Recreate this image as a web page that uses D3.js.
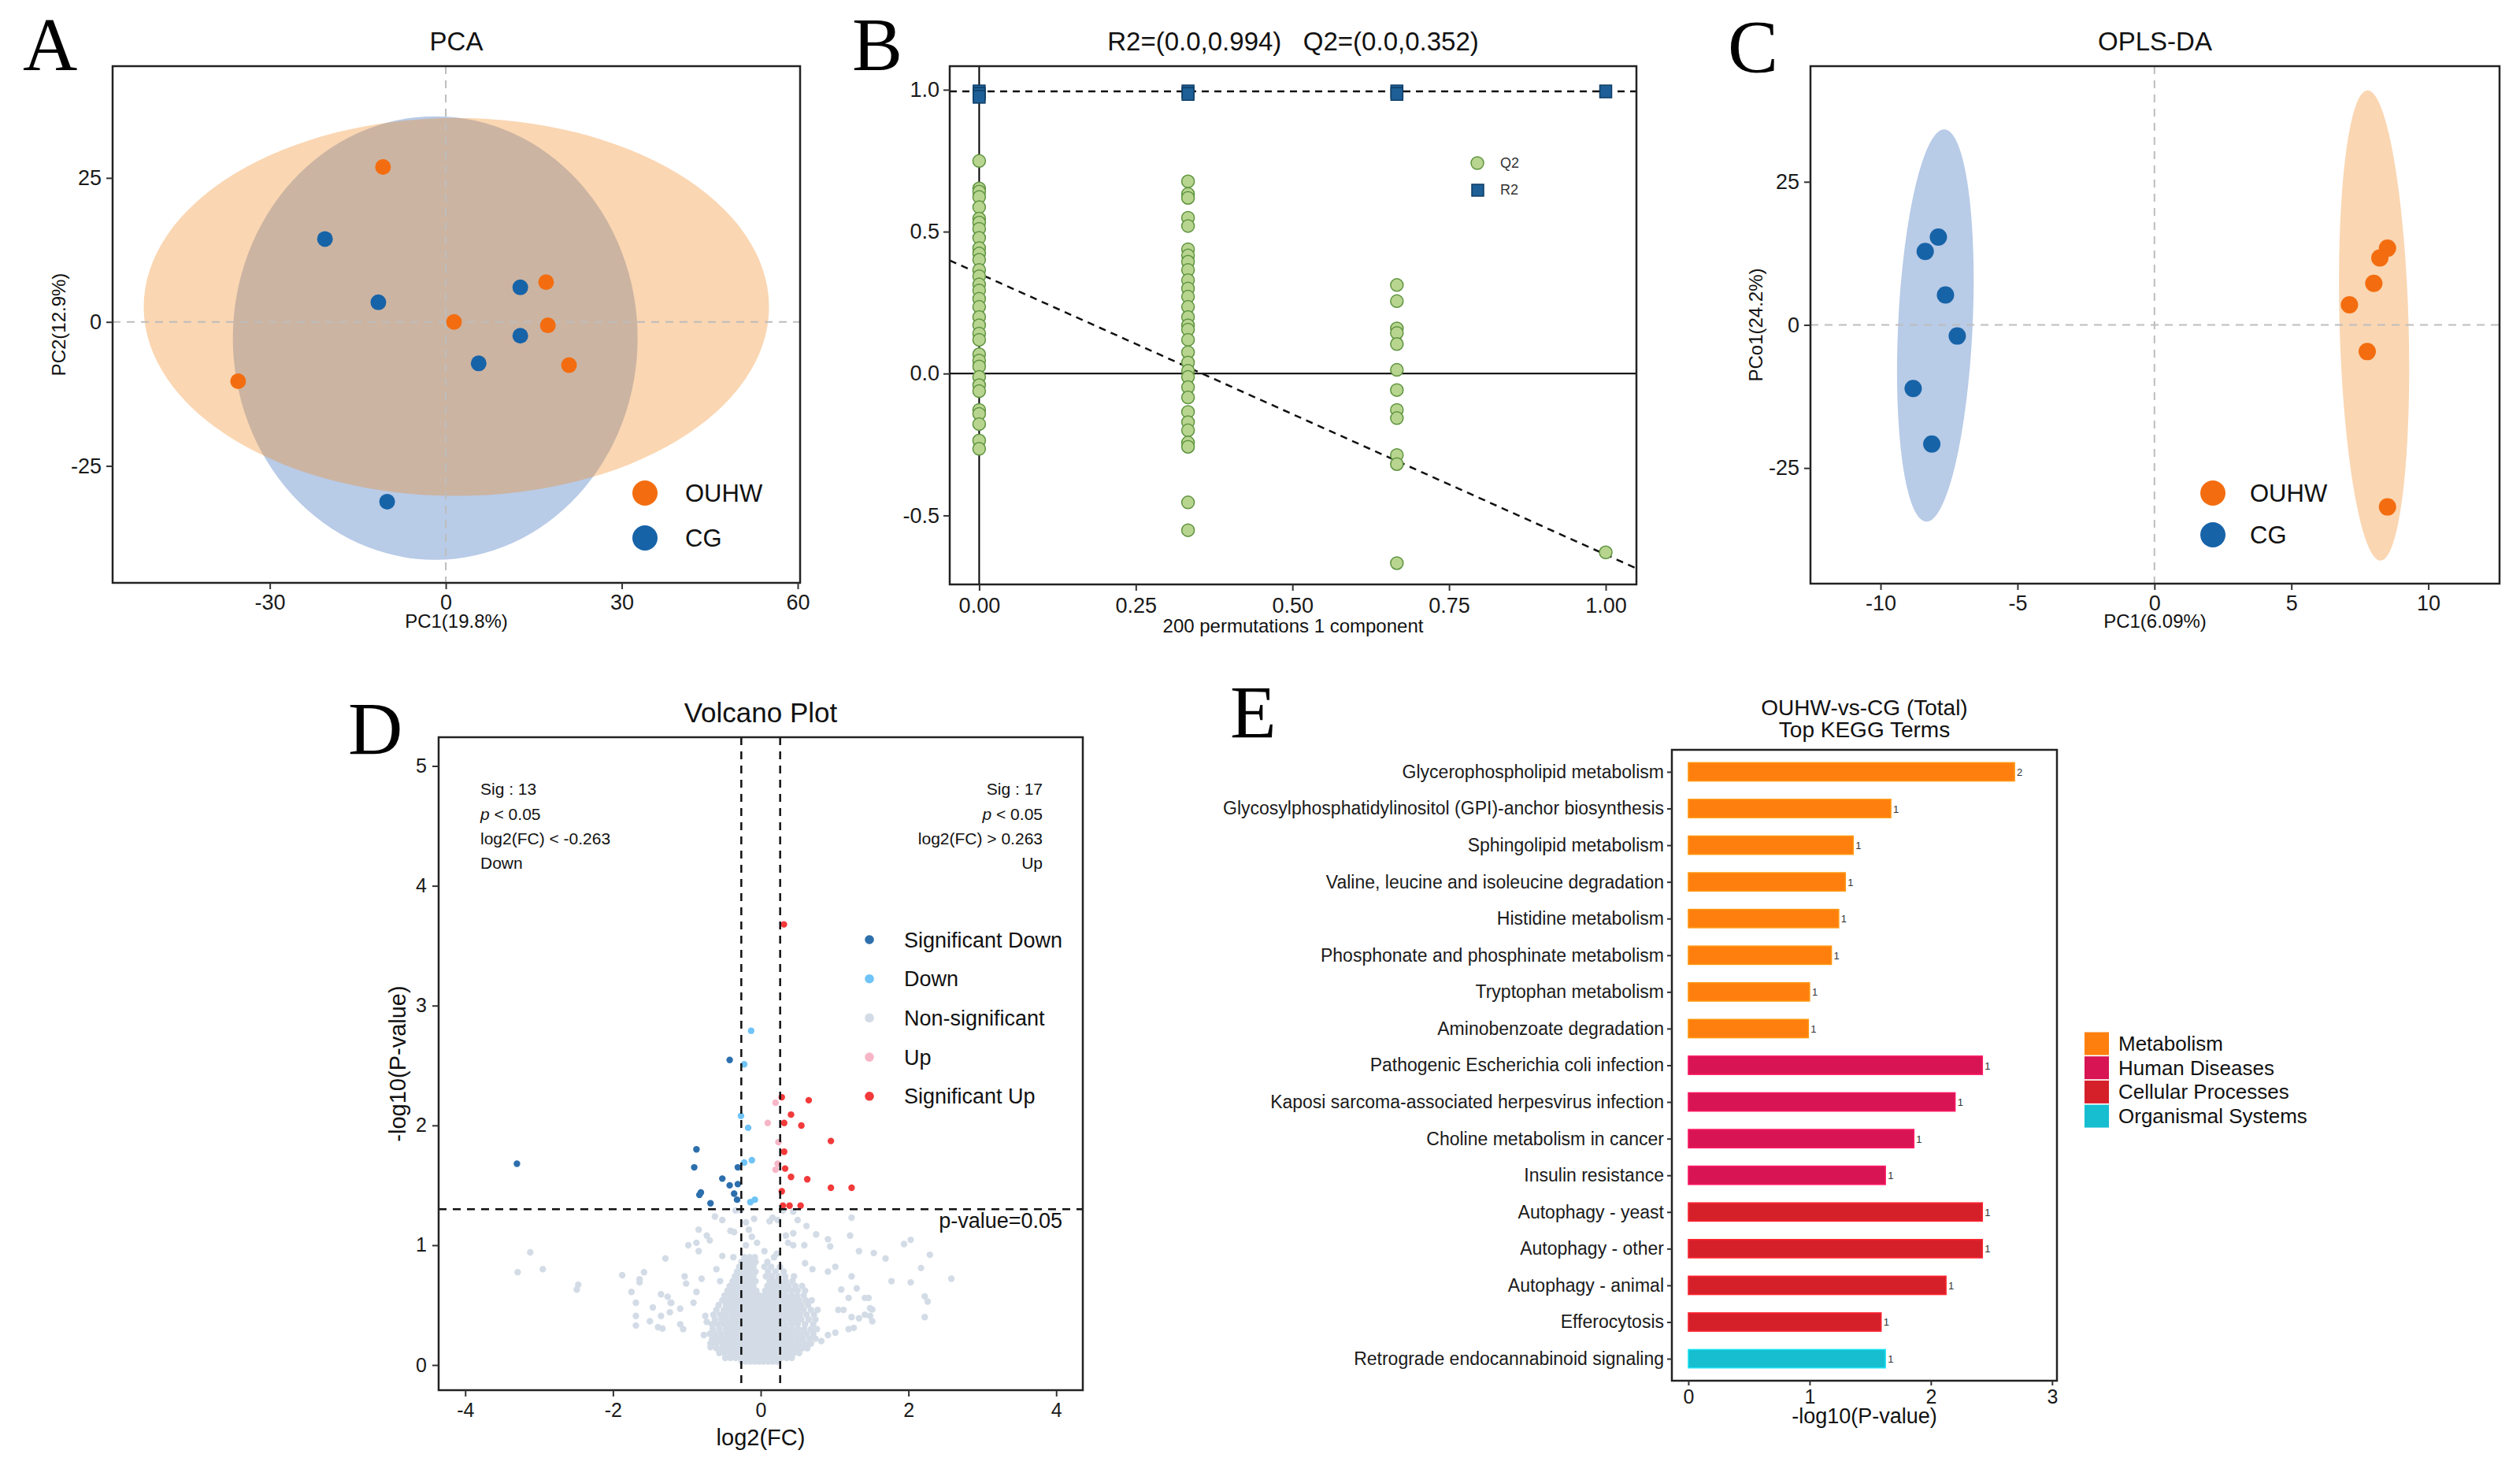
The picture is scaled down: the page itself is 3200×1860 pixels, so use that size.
<!DOCTYPE html>
<html><head><meta charset="utf-8">
<script src="https://cdn.jsdelivr.net/npm/d3@7"></script>
<style>body{margin:0;background:#fff}</style>
</head><body>
<svg id="c" width="3200" height="1860" xmlns="http://www.w3.org/2000/svg"></svg>
<script>
// ================= DATA =================
// Panel A: PCA scores
const pcaGroups = ["OUHW", "CG"];
const pcaOUHW_PC1 = [-10.7, 17.1, 1.4, 17.4, 21.0, -35.4];
const pcaOUHW_PC2 = [26.9, 6.9, 0.0, -0.6, -7.5, -10.3];
const pcaCG_PC1 = [-20.6, -11.5, 12.7, 12.7, 5.6, -10.0];
const pcaCG_PC2 = [14.4, 3.4, 6.0, -2.4, -7.2, -31.2];
// ellipses: [centre PC1, centre PC2, radius PC1, radius PC2, tilt deg]
const pcaEllipseOUHW = [1.8, 2.6, 53.3, 32.8, 0];
const pcaEllipseCG = [-1.8, -2.8, 34.5, 38.5, 0];
const pcaXTicks = [-30, 0, 30, 60];
const pcaYTicks = [-25, 0, 25];

// Panel B: permutation test
const permLevels = [0, 1 / 3, 2 / 3, 1];
const q2_0 = [0.749,0.652,0.641,0.622,0.586,0.546,0.532,0.510,0.478,0.442,0.423,0.401,0.365,0.343,0.314,0.293,0.264,0.235,0.199,0.170,0.141,0.119,0.068,0.046,0.025,-0.012,-0.041,-0.062,-0.128,-0.142,-0.178,-0.236,-0.265];
const q2_1 = [0.677,0.633,0.619,0.549,0.520,0.438,0.416,0.394,0.365,0.329,0.300,0.271,0.235,0.199,0.170,0.155,0.119,0.075,0.039,0.010,-0.012,-0.048,-0.084,-0.135,-0.171,-0.200,-0.243,-0.258,-0.454,-0.552];
const q2_2 = [0.312,0.255,0.159,0.143,0.104,0.013,-0.058,-0.128,-0.157,-0.287,-0.319,-0.668];
const q2_3 = [-0.630];
const r2_0 = [0.994, 0.985, 0.975];
const r2_1 = [0.994, 0.985];
const r2_2 = [0.994, 0.985];
const r2_3 = [0.994];
const r2Intercept = 0.994, r2Slope = 0.0;
const q2Intercept = 0.352, q2Slope = -0.99;
const permXTicks = [0, 0.25, 0.5, 0.75, 1.0];
const permYTicks = [-0.5, 0.0, 0.5, 1.0];

// Panel C: OPLS-DA scores
const oplsOUHW_PC1 = [8.51, 8.23, 8.01, 7.12, 7.77, 8.51];
const oplsOUHW_PCo1 = [13.4, 11.7, 7.25, 3.5, -4.66, -31.8];
const oplsCG_PC1 = [-7.89, -8.37, -7.63, -7.2, -8.81, -8.13];
const oplsCG_PCo1 = [15.35, 12.84, 5.24, -1.94, -11.1, -20.8];
const oplsEllipseOUHW = [8.02, -0.1, 1.26, 41.1, -1.6];
const oplsEllipseCG = [-8.0, -0.1, 1.36, 34.3, 2.7];
const oplsXTicks = [-10, -5, 0, 5, 10];
const oplsYTicks = [-25, 0, 25];

// Panel D: volcano  [log2FC, -log10 p]
const volSigDown = [[-3.30,1.68],[-0.42,2.546],[-0.87,1.80],[-0.90,1.65],[-0.31,1.65],[-0.52,1.556],[-0.42,1.50],[-0.31,1.51],[-0.81,1.44],[-0.83,1.42],[-0.36,1.43],[-0.32,1.38],[-0.68,1.35]];
const volDown = [[-0.13,2.79],[-0.224,2.51],[-0.267,2.08],[-0.17,1.98],[-0.12,1.71],[-0.224,1.69],[-0.14,1.36],[-0.08,1.38]];
const volUp = [[0.20,2.19],[0.095,2.02],[0.24,1.86],[0.23,1.68],[0.20,1.63]];
const volSigUp = [[0.314,3.678],[0.285,2.235],[0.65,2.21],[0.41,2.09],[0.317,2.02],[0.55,1.999],[0.95,1.87],[0.317,1.78],[0.33,1.64],[0.41,1.57],[0.63,1.55],[0.95,1.48],[1.23,1.48],[0.285,1.45],[0.30,1.33],[0.39,1.33],[0.54,1.33]];
const volNsScatter = [[-3.12,0.94],[-3.29,0.775],[-2.95,0.80],[-2.47,0.67],[-2.49,0.63],[-1.875,0.75],[-1.58,0.775],[-1.64,0.716],[-1.64,0.69],[-1.75,0.61],[-1.69,0.52],[-1.69,0.41],[-1.69,0.33],[-1.50,0.365],[-1.46,0.48],[-1.35,0.59],[-1.26,0.57],[-1.22,0.52],[-1.23,0.44],[-1.35,0.41],[-1.39,0.316],[-1.33,0.305],[-1.29,0.89],
[-1.03,0.74],[-1.01,0.68],[-0.80,0.72],[-0.87,0.61],[-0.91,0.52],[-1.09,0.47],[-1.21,0.52],[-1.09,0.34],[-1.05,0.30],[-0.75,0.41],[-0.73,0.36],[-0.77,0.25],[-0.66,0.21],[-0.68,0.15],[-0.98,1.00],[-0.87,1.02],[-0.84,0.95],[-0.84,1.13],[-0.73,1.08],[-0.69,1.04],[-0.62,1.24],[-0.52,1.21],[-0.52,0.91],[-0.37,0.90],[-0.6,0.8],[-0.55,0.7],
[-0.36,1.11],[-0.41,1.12],[-0.20,1.19],[-0.09,1.22],[-0.16,1.13],[-0.12,1.07],[-0.20,1.00],[-0.34,1.29],[-0.27,1.29],[0.12,1.20],[0.16,1.23],[0.23,1.21],[0.30,1.29],[0.44,1.28],[0.50,1.21],[0.44,1.10],[0.34,1.08],[0.37,1.02],[0.44,1.00],[0.05,0.95],[0.22,0.93],[-0.05,1.02],[0.6,0.85],[0.7,0.8],
[1.21,1.08],[1.23,1.23],[1.33,0.95],[1.01,0.82],[0.91,0.78],[1.23,0.74],[1.30,0.64],[1.41,0.56],[1.19,0.56],[1.09,0.63],[1.05,0.46],[1.12,0.46],[1.23,0.40],[1.33,0.39],[1.41,0.42],[1.26,0.31],[1.19,0.30],[1.01,0.27],[0.91,0.25],[0.82,0.20],[0.91,1.05],[0.94,0.99],[0.75,1.09],[0.62,1.16],[0.59,1.00],
[2.03,1.045],[1.94,1.01],[1.53,0.935],[1.69,0.89],[2.29,0.92],[2.17,0.81],[2.58,0.72],[1.77,0.70],[2.03,0.69],[2.22,0.573],[2.26,0.53],[2.22,0.40],[1.46,0.56],[1.48,0.474],[1.51,0.463],[1.48,0.41],[1.51,0.365]];
// dense core of non-significant metabolites: [ -log10 p, [log2FC ...] ]
const volNsCoreRows = [
 [0.03,[-0.26,-0.2,-0.14,-0.08,-0.02,0.04,0.1,0.16,0.22]],
 [0.06,[-0.48,-0.41,-0.34,-0.27,-0.21,-0.15,-0.09,-0.03,0.03,0.09,0.15,0.21,0.28,0.35,0.42]],
 [0.10,[-0.56,-0.49,-0.42,-0.36,-0.3,-0.24,-0.18,-0.12,-0.06,0,0.06,0.12,0.18,0.25,0.31,0.38,0.45,0.52]],
 [0.14,[-0.6,-0.53,-0.46,-0.39,-0.33,-0.27,-0.21,-0.15,-0.09,-0.03,0.03,0.09,0.15,0.21,0.27,0.34,0.41,0.48,0.56,0.63]],
 [0.18,[-0.68,-0.6,-0.52,-0.45,-0.38,-0.31,-0.25,-0.19,-0.13,-0.07,-0.01,0.05,0.11,0.17,0.23,0.3,0.37,0.44,0.52,0.6,0.68]],
 [0.22,[-0.64,-0.56,-0.48,-0.41,-0.34,-0.28,-0.22,-0.16,-0.1,-0.04,0.02,0.08,0.14,0.2,0.27,0.34,0.41,0.49,0.57,0.66,0.74]],
 [0.26,[-0.69,-0.61,-0.53,-0.45,-0.38,-0.31,-0.24,-0.18,-0.12,-0.06,0,0.06,0.12,0.18,0.24,0.31,0.38,0.46,0.54,0.62,0.71]],
 [0.30,[-0.65,-0.56,-0.47,-0.4,-0.33,-0.26,-0.2,-0.14,-0.08,-0.02,0.04,0.1,0.16,0.22,0.29,0.36,0.43,0.51,0.59,0.68,0.76]],
 [0.34,[-0.66,-0.58,-0.5,-0.42,-0.35,-0.28,-0.22,-0.16,-0.1,-0.04,0.03,0.09,0.15,0.21,0.27,0.34,0.42,0.5,0.6,0.71]],
 [0.38,[-0.62,-0.53,-0.45,-0.37,-0.3,-0.24,-0.18,-0.12,-0.06,0,0.06,0.12,0.18,0.25,0.32,0.4,0.47,0.55,0.65,0.74]],
 [0.42,[-0.64,-0.55,-0.47,-0.39,-0.32,-0.26,-0.2,-0.14,-0.08,-0.02,0.05,0.11,0.17,0.23,0.3,0.37,0.45,0.53,0.62,0.72]],
 [0.46,[-0.6,-0.5,-0.42,-0.35,-0.28,-0.22,-0.16,-0.1,-0.04,0.02,0.08,0.14,0.2,0.27,0.34,0.42,0.5,0.58,0.68,0.77]],
 [0.50,[-0.57,-0.47,-0.4,-0.33,-0.26,-0.2,-0.14,-0.08,0.0,0.06,0.12,0.18,0.25,0.32,0.39,0.47,0.55,0.64]],
 [0.54,[-0.52,-0.44,-0.37,-0.3,-0.24,-0.18,-0.12,-0.04,0.03,0.09,0.15,0.22,0.29,0.36,0.44,0.52,0.61,0.69]],
 [0.58,[-0.49,-0.41,-0.34,-0.27,-0.21,-0.15,-0.09,-0.02,0.05,0.12,0.19,0.26,0.33,0.41,0.49,0.58]],
 [0.62,[-0.45,-0.37,-0.3,-0.24,-0.18,-0.12,-0.06,0.06,0.13,0.2,0.27,0.34,0.42,0.5,0.6]],
 [0.66,[-0.42,-0.34,-0.28,-0.22,-0.16,-0.1,0.09,0.16,0.23,0.3,0.38,0.47,0.56]],
 [0.70,[-0.38,-0.31,-0.25,-0.19,-0.13,-0.07,0.12,0.19,0.26,0.34,0.43]],
 [0.74,[-0.35,-0.28,-0.22,-0.16,-0.1,0.07,0.15,0.24,0.33,0.45]],
 [0.78,[-0.32,-0.25,-0.19,-0.13,-0.07,0.1,0.2,0.31]],
 [0.82,[-0.29,-0.22,-0.16,-0.1,0.05,0.14,0.26]],
 [0.86,[-0.26,-0.2,-0.13,-0.07,0.09]],
 [0.90,[-0.22,-0.15,-0.08,0.18]]
];
const volFCCut = 0.263, volPCut = 0.05;
const volXTicks = [-4, -2, 0, 2, 4];
const volYTicks = [0, 1, 2, 3, 4, 5];
const volLegend = ["Significant Down", "Down", "Non-significant", "Up", "Significant Up"];

// Panel E: KEGG enrichment
const keggTerms = ["Glycerophospholipid metabolism","Glycosylphosphatidylinositol (GPI)-anchor biosynthesis","Sphingolipid metabolism","Valine, leucine and isoleucine degradation","Histidine metabolism","Phosphonate and phosphinate metabolism","Tryptophan metabolism","Aminobenzoate degradation","Pathogenic Escherichia coli infection","Kaposi sarcoma-associated herpesvirus infection","Choline metabolism in cancer","Insulin resistance","Autophagy - yeast","Autophagy - other","Autophagy - animal","Efferocytosis","Retrograde endocannabinoid signaling"];
const keggValues = [2.69,1.67,1.36,1.295,1.24,1.18,1.00,0.99,2.425,2.20,1.86,1.625,2.425,2.425,2.125,1.59,1.625];
const keggCounts = [2,1,1,1,1,1,1,1,1,1,1,1,1,1,1,1,1];
const keggClass = ["Metabolism","Metabolism","Metabolism","Metabolism","Metabolism","Metabolism","Metabolism","Metabolism","Human Diseases","Human Diseases","Human Diseases","Human Diseases","Cellular Processes","Cellular Processes","Cellular Processes","Cellular Processes","Organismal Systems"];
const keggClasses = ["Metabolism","Human Diseases","Cellular Processes","Organismal Systems"];
const keggXTicks = [0, 1, 2, 3];

// ================= STYLE =================
const FONT = "'Liberation Sans', Arial, Helvetica, sans-serif";
const SERIF = "'Liberation Serif', 'Times New Roman', serif";
const grpColor = {OUHW: "#F36D10", CG: "#1763A8"};
const grpFill = {OUHW: "rgb(241,138,35)", CG: "rgb(53,107,187)"};
const volColor = {"Significant Down": "#2D6FAD", "Down": "#6FC3F6", "Non-significant": "#D3DCE6", "Up": "#F7B6C7", "Significant Up": "#F23A3A"};
const keggColor = d3.scaleOrdinal().domain(keggClasses).range(["#FF7F0E", "#D81454", "#D5202A", "#16BECF"]);
// hyphen-minus tick formats (as in the original)
const fmt = f => (d => d3.format(f)(d).replace("\u2212", "-"));

const svg = d3.select("#c");
svg.append("rect").attr("width", 3200).attr("height", 1860).attr("fill", "#fff");
const defs = svg.append("defs");

function clip(id, b) {
  defs.append("clipPath").attr("id", id).append("rect")
    .attr("x", b.x0).attr("y", b.y0).attr("width", b.x1 - b.x0).attr("height", b.y1 - b.y0);
}
function styleAxis(g, fs) {
  g.attr("font-size", fs).attr("font-family", FONT);
  g.select(".domain").remove();
  g.selectAll(".tick line").attr("stroke", "#333").attr("stroke-width", 2);
  g.selectAll(".tick text").attr("fill", "#1a1a1a");
}
function frame(b) {
  svg.append("rect").attr("x", b.x0).attr("y", b.y0).attr("width", b.x1 - b.x0).attr("height", b.y1 - b.y0)
    .attr("fill", "none").attr("stroke", "#222").attr("stroke-width", 2.5);
}
function text(x, y, s, fs, opts = {}) {
  const t = svg.append("text").attr("x", x).attr("y", y).attr("font-size", fs)
    .attr("font-family", opts.family || FONT).attr("fill", opts.fill || "#111")
    .attr("text-anchor", opts.anchor || "start").style("white-space", "pre").text(s);
  if (opts.rotate) t.attr("transform", `rotate(-90,${x},${y})`).attr("dy", "0.35em");
  return t;
}
function letter(x, y, s) { text(x, y, s, 96, {family: SERIF, fill: "#000"}); }
function ellipse(g, e, xs, ys, fill) {
  const cx = xs(e[0]), cy = ys(e[1]);
  g.append("ellipse").attr("cx", cx).attr("cy", cy)
    .attr("rx", Math.abs(xs(e[0] + e[2]) - cx)).attr("ry", Math.abs(ys(e[1] + e[3]) - cy))
    .attr("transform", `rotate(${e[4]},${cx},${cy})`)
    .attr("fill", fill).attr("fill-opacity", 0.35);
}
function scorePanel(b, xs, ys, xt, yt, ell, pts, r, legPos, titleStr, xlab, ylab, ylabX, clipId) {
  clip(clipId, b);
  const g = svg.append("g").attr("clip-path", `url(#${clipId})`);
  ellipse(g, ell.CG, xs, ys, grpFill.CG);
  ellipse(g, ell.OUHW, xs, ys, grpFill.OUHW);
  g.append("line").attr("x1", xs(0)).attr("x2", xs(0)).attr("y1", b.y0).attr("y2", b.y1)
    .attr("stroke", "#BDBDBD").attr("stroke-width", 2).attr("stroke-dasharray", "10,8");
  g.append("line").attr("x1", b.x0).attr("x2", b.x1).attr("y1", ys(0)).attr("y2", ys(0))
    .attr("stroke", "#BDBDBD").attr("stroke-width", 2).attr("stroke-dasharray", "10,8");
  pcaGroups.forEach(k => {
    g.selectAll(null).data(d3.zip(pts[k][0], pts[k][1])).join("circle")
      .attr("cx", d => xs(d[0])).attr("cy", d => ys(d[1])).attr("r", r).attr("fill", grpColor[k]);
  });
  frame(b);
  styleAxis(svg.append("g").attr("transform", `translate(0,${b.y1})`)
    .call(d3.axisBottom(xs).tickValues(xt).tickSize(8).tickPadding(7).tickFormat(fmt("d"))), 27);
  styleAxis(svg.append("g").attr("transform", `translate(${b.x0},0)`)
    .call(d3.axisLeft(ys).tickValues(yt).tickSize(8).tickPadding(6).tickFormat(fmt("d"))), 27);
  const cxm = (b.x0 + b.x1) / 2;
  text(cxm, 64, titleStr, 33, {anchor: "middle"});
  text(cxm, 797, xlab, 24, {anchor: "middle"});
  text(ylabX, (b.y0 + b.y1) / 2, ylab, 24, {anchor: "middle", rotate: true});
  pcaGroups.forEach((k, i) => {
    svg.append("circle").attr("cx", legPos[0]).attr("cy", legPos[1] + i * legPos[2]).attr("r", 16).attr("fill", grpColor[k]);
    text(legPos[3], legPos[1] + i * legPos[2] + 11, k, 31);
  });
}

// ================= PANEL A =================
const A = {x0: 143, x1: 1016, y0: 84, y1: 740};
const xA = d3.scaleLinear().domain([-56.8, 60.4]).range([A.x0, A.x1]);
const yA = d3.scaleLinear().domain([-45.3, 44.4]).range([A.y1, A.y0]);
scorePanel(A, xA, yA, pcaXTicks, pcaYTicks, {OUHW: pcaEllipseOUHW, CG: pcaEllipseCG},
  {OUHW: [pcaOUHW_PC1, pcaOUHW_PC2], CG: [pcaCG_PC1, pcaCG_PC2]}, 10, [819, 626, 57, 870],
  "PCA", "PC1(19.8%)", "PC2(12.9%)", 75, "clipA");
letter(29, 89, "A");

// ================= PANEL C =================
const C = {x0: 2299, x1: 3174, y0: 84, y1: 741};
const xC = d3.scaleLinear().domain([-12.56, 12.6]).range([C.x0, C.x1]);
const yC = d3.scaleLinear().domain([-45.2, 45.2]).range([C.y1, C.y0]);
scorePanel(C, xC, yC, oplsXTicks, oplsYTicks, {OUHW: oplsEllipseOUHW, CG: oplsEllipseCG},
  {OUHW: [oplsOUHW_PC1, oplsOUHW_PCo1], CG: [oplsCG_PC1, oplsCG_PCo1]}, 11, [2810, 626, 53, 2857],
  "OPLS-DA", "PC1(6.09%)", "PCo1(24.2%)", 2230, "clipC");
letter(2194, 92, "C");

// ================= PANEL B =================
const B = {x0: 1206, x1: 2078, y0: 84, y1: 742};
const xB = d3.scaleLinear().domain([-0.047, 1.049]).range([B.x0, B.x1]);
const yB = d3.scaleLinear().domain([-0.743, 1.083]).range([B.y1, B.y0]);
clip("clipB", B);
const gB = svg.append("g").attr("clip-path", "url(#clipB)");
gB.append("line").attr("x1", xB(0)).attr("x2", xB(0)).attr("y1", B.y0).attr("y2", B.y1).attr("stroke", "#000").attr("stroke-width", 2);
gB.append("line").attr("x1", B.x0).attr("x2", B.x1).attr("y1", yB(0)).attr("y2", yB(0)).attr("stroke", "#000").attr("stroke-width", 2);
const xdom = xB.domain();
[[r2Intercept, r2Slope], [q2Intercept, q2Slope]].forEach(([a, s]) => {
  gB.append("line").attr("x1", xB(xdom[0])).attr("x2", xB(xdom[1]))
    .attr("y1", yB(a + s * xdom[0])).attr("y2", yB(a + s * xdom[1]))
    .attr("stroke", "#111").attr("stroke-width", 2.5).attr("stroke-dasharray", "9,7");
});
const q2Cols = [q2_0, q2_1, q2_2, q2_3], r2Cols = [r2_0, r2_1, r2_2, r2_3];
const q2Pts = [], r2Pts = [];
permLevels.forEach((lv, i) => { q2Cols[i].forEach(v => q2Pts.push([lv, v])); r2Cols[i].forEach(v => r2Pts.push([lv, v])); });
gB.selectAll(null).data(q2Pts).join("circle").attr("cx", d => xB(d[0])).attr("cy", d => yB(d[1])).attr("r", 8)
  .attr("fill", "#B8D58F").attr("stroke", "#5F9440").attr("stroke-width", 1.5);
gB.selectAll(null).data(r2Pts).join("rect").attr("x", d => xB(d[0]) - 7.5).attr("y", d => yB(d[1]) - 8).attr("width", 15).attr("height", 16)
  .attr("fill", "#1D5F96").attr("stroke", "#0E3D66").attr("stroke-width", 1.5);
frame(B);
styleAxis(svg.append("g").attr("transform", `translate(0,${B.y1})`)
  .call(d3.axisBottom(xB).tickValues(permXTicks).tickSize(8).tickPadding(9).tickFormat(fmt(".2f"))), 27);
styleAxis(svg.append("g").attr("transform", `translate(${B.x0},0)`)
  .call(d3.axisLeft(yB).tickValues(permYTicks).tickSize(8).tickPadding(5).tickFormat(fmt(".1f"))), 27);
text((B.x0 + B.x1) / 2, 64, "R2=(0.0,0.994)   Q2=(0.0,0.352)", 33, {anchor: "middle"});
text((B.x0 + B.x1) / 2, 803, "200 permutations 1 component", 24, {anchor: "middle"});
svg.append("circle").attr("cx", 1876).attr("cy", 207).attr("r", 8).attr("fill", "#B8D58F").attr("stroke", "#5F9440").attr("stroke-width", 1.5);
svg.append("rect").attr("x", 1869).attr("y", 234).attr("width", 15).attr("height", 15).attr("fill", "#1D5F96").attr("stroke", "#0E3D66").attr("stroke-width", 1.5);
text(1905, 213, "Q2", 18, {fill: "#333"});
text(1905, 247, "R2", 18, {fill: "#333"});
letter(1082, 89, "B");

// ================= PANEL D =================
const D = {x0: 557, x1: 1375, y0: 936, y1: 1765};
const xD = d3.scaleLinear().domain([-4.36, 4.36]).range([D.x0, D.x1]);
const yD = d3.scaleLinear().domain([-0.21, 5.24]).range([D.y1, D.y0]);
clip("clipD", D);
const gD = svg.append("g").attr("clip-path", "url(#clipD)");
const nsPts = volNsScatter.slice();
volNsCoreRows.forEach(([y, xs]) => xs.forEach(x => nsPts.push([x, y])));
const volSets = [["Non-significant", nsPts], ["Down", volDown], ["Up", volUp], ["Significant Down", volSigDown], ["Significant Up", volSigUp]];
volSets.forEach(([k, arr]) => {
  gD.selectAll(null).data(arr).join("circle").attr("cx", d => xD(d[0])).attr("cy", d => yD(d[1]))
    .attr("r", 4.2).attr("fill", volColor[k]);
});
const pLine = -Math.log10(volPCut);
[-volFCCut, volFCCut].forEach(a => {
  gD.append("line").attr("x1", xD(a)).attr("x2", xD(a)).attr("y1", D.y0).attr("y2", D.y1)
    .attr("stroke", "#111").attr("stroke-width", 2.5).attr("stroke-dasharray", "10,8");
});
gD.append("line").attr("x1", D.x0).attr("x2", D.x1).attr("y1", yD(pLine)).attr("y2", yD(pLine))
  .attr("stroke", "#111").attr("stroke-width", 2.5).attr("stroke-dasharray", "10,8");
frame(D);
styleAxis(svg.append("g").attr("transform", `translate(0,${D.y1})`)
  .call(d3.axisBottom(xD).tickValues(volXTicks).tickSize(8).tickPadding(8).tickFormat(fmt("d"))), 25);
styleAxis(svg.append("g").attr("transform", `translate(${D.x0},0)`)
  .call(d3.axisLeft(yD).tickValues(volYTicks).tickSize(8).tickPadding(7).tickFormat(fmt("d"))), 25);
text((D.x0 + D.x1) / 2, 917, "Volcano Plot", 35, {anchor: "middle"});
text((D.x0 + D.x1) / 2, 1835, "log2(FC)", 29, {anchor: "middle"});
text(505, (D.y0 + D.y1) / 2, "-log10(P-value)", 29, {anchor: "middle", rotate: true});
text(1349, 1559, "p-value=0.05", 27, {anchor: "end"});
function pLineText(x, y, anchor) {
  const t = svg.append("text").attr("x", x).attr("y", y).attr("font-size", 21).attr("font-family", FONT)
    .attr("fill", "#111").attr("text-anchor", anchor);
  t.append("tspan").attr("font-style", "italic").text("p");
  t.append("tspan").text(" < " + volPCut);
}
text(610, 1009, "Sig : " + volSigDown.length, 21);
pLineText(610, 1041, "start");
text(610, 1072, "log2(FC) < -" + volFCCut, 21);
text(610, 1103, "Down", 21);
text(1324, 1009, "Sig : " + volSigUp.length, 21, {anchor: "end"});
pLineText(1324, 1041, "end");
text(1324, 1072, "log2(FC) > " + volFCCut, 21, {anchor: "end"});
text(1324, 1103, "Up", 21, {anchor: "end"});
volLegend.forEach((k, i) => {
  const cy = 1193 + i * 49.7;
  svg.append("circle").attr("cx", 1104).attr("cy", cy).attr("r", 5.8).attr("fill", volColor[k]);
  text(1148, cy + 9.5, k, 27);
});
letter(442, 958, "D");

// ================= PANEL E =================
const E = {x0: 2123, x1: 2612, y0: 952, y1: 1753};
const xE = d3.scaleLinear().domain([-0.136, 3.04]).range([E.x0, E.x1]);
const yE = d3.scalePoint().domain(keggTerms).range([E.y0, E.y1]).padding(0.6);
const barH = yE.step() * 0.5;
svg.append("g").selectAll("rect").data(keggTerms).join("rect")
  .attr("x", xE(0)).attr("y", d => yE(d) - barH / 2)
  .attr("width", (d, i) => xE(keggValues[i]) - xE(0)).attr("height", barH)
  .attr("fill", (d, i) => keggColor(keggClass[i]))
  .attr("stroke", (d, i) => d3.color(keggColor(keggClass[i])).brighter(0.5)).attr("stroke-width", 1.5);
svg.append("g").selectAll("text").data(keggTerms).join("text")
  .attr("x", (d, i) => xE(keggValues[i]) + 3).attr("y", d => yE(d) + 5)
  .attr("font-size", 13).attr("font-family", FONT).attr("fill", "#333")
  .text((d, i) => keggCounts[i]);
frame(E);
styleAxis(svg.append("g").attr("transform", `translate(0,${E.y1})`)
  .call(d3.axisBottom(xE).tickValues(keggXTicks).tickSize(6).tickPadding(5).tickFormat(fmt("d"))), 25);
styleAxis(svg.append("g").attr("transform", `translate(${E.x0},0)`)
  .call(d3.axisLeft(yE).tickSize(6).tickPadding(4)), 23);
text((E.x0 + E.x1) / 2, 908, "OUHW-vs-CG (Total)", 28, {anchor: "middle"});
text((E.x0 + E.x1) / 2, 936, "Top KEGG Terms", 28, {anchor: "middle"});
text((E.x0 + E.x1) / 2, 1807, "-log10(P-value)", 27, {anchor: "middle"});
keggClasses.forEach((k, i) => {
  const cy = 1325 + i * 30.7;
  svg.append("rect").attr("x", 2647).attr("y", cy - 14.5).attr("width", 31).attr("height", 29).attr("fill", keggColor(k));
  text(2690, cy + 9, k, 26);
});
letter(1562, 937, "E");
</script>
</body></html>
